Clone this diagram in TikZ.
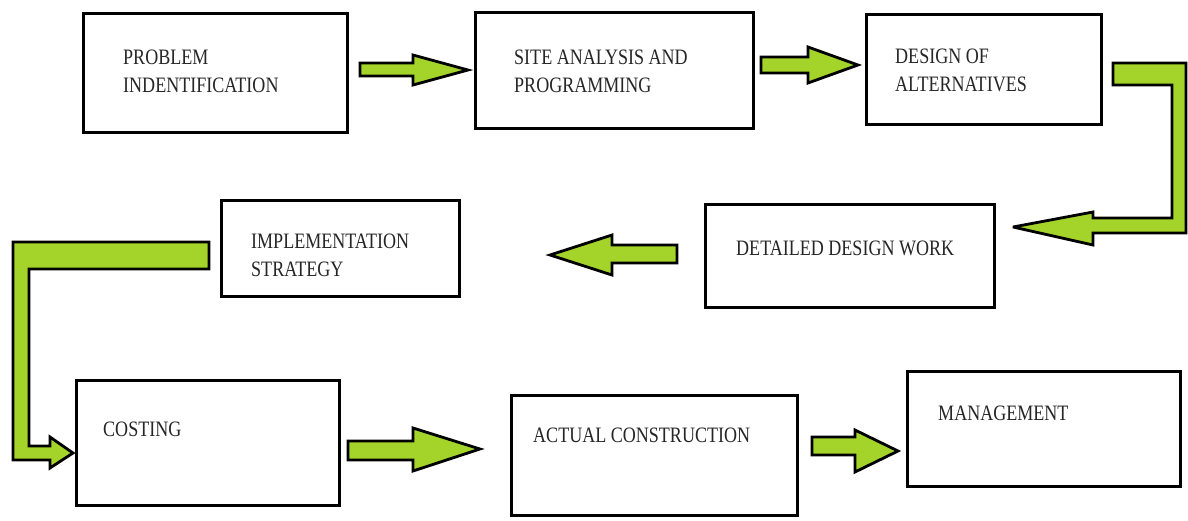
\documentclass[tikz,border=0pt]{standalone}
\usepackage{fontspec}
\setmainfont[FakeStretch=0.82]{Liberation Serif}
\begin{document}
\begin{tikzpicture}[x=1pt,y=-1pt,
  box/.style={draw=black, line width=3pt, fill=white, anchor=north west,
    inner sep=0pt, line join=miter},
  label/.style={anchor=base west, inner sep=0pt, align=left,
    text=black!85, font=\fontsize{22}{28}\selectfont},
  blockarrow/.style={draw=black, line width=2.8pt, fill=arrowgreen,
    line join=miter, miter limit=4}]
\definecolor{arrowgreen}{RGB}{164,212,42}
\useasboundingbox[fill=white] (0,0) rectangle (1188,520);

% process boxes
\node[box, minimum width=264, minimum height=119] (b1) at (82,12) {};
\node[box, minimum width=278, minimum height=116] (b2) at (474,11) {};
\node[box, minimum width=235, minimum height=110] (b3) at (865,13) {};
\node[box, minimum width=289, minimum height=103] (b4) at (704,203) {};
\node[box, minimum width=238, minimum height=96]  (b5) at (220,199) {};
\node[box, minimum width=263, minimum height=125] (b6) at (75,379) {};
\node[box, minimum width=286, minimum height=120] (b7) at (510,394) {};
\node[box, minimum width=273, minimum height=115] (b8) at (906,370) {};

% box captions (base anchor sits on the last line)
\node[label] (t1) at (123,92)  {PROBLEM\\INDENTIFICATION};
\node[label] (t2) at (514,92)  {SITE ANALYSIS AND\\PROGRAMMING};
\node[label] (t3) at (895,91)  {DESIGN OF\\ALTERNATIVES};
\node[label] (t4) at (736,255) {DETAILED DESIGN WORK};
\node[label] (t5) at (251,276) {IMPLEMENTATION\\STRATEGY};
\node[label] (t6) at (103,436) {COSTING};
\node[label] (t7) at (533,442) {ACTUAL CONSTRUCTION};
\node[label] (t8) at (938,420) {MANAGEMENT};

% block arrows between the stages
\draw[blockarrow] (360,63) -- (413,63) -- (413,55) -- (468,70)
  -- (413,85) -- (413,76) -- (360,76) -- cycle;
\draw[blockarrow] (761,57) -- (808,57) -- (808,47) -- (858,65)
  -- (808,83) -- (808,73) -- (761,73) -- cycle;
\draw[blockarrow] (1113,63) -- (1186,63) -- (1186,233) -- (1093,233)
  -- (1093,245) -- (1013,227) -- (1093,212) -- (1093,218)
  -- (1172,218) -- (1172,85) -- (1113,85) -- cycle;
\draw[blockarrow] (677,245) -- (612,245) -- (612,235) -- (550,255)
  -- (612,275) -- (612,263) -- (677,263) -- cycle;
\draw[blockarrow] (209,242) -- (13,242) -- (13,460) -- (50,460)
  -- (50,468) -- (73,453) -- (50,437) -- (50,446) -- (29,446)
  -- (29,269) -- (209,269) -- cycle;
\draw[blockarrow] (348,441) -- (413,441) -- (413,428) -- (480,449)
  -- (413,471) -- (413,460) -- (348,460) -- cycle;
\draw[blockarrow] (812,437) -- (855,437) -- (855,430) -- (898,451)
  -- (855,472) -- (855,455) -- (812,455) -- cycle;
\end{tikzpicture}
\end{document}
